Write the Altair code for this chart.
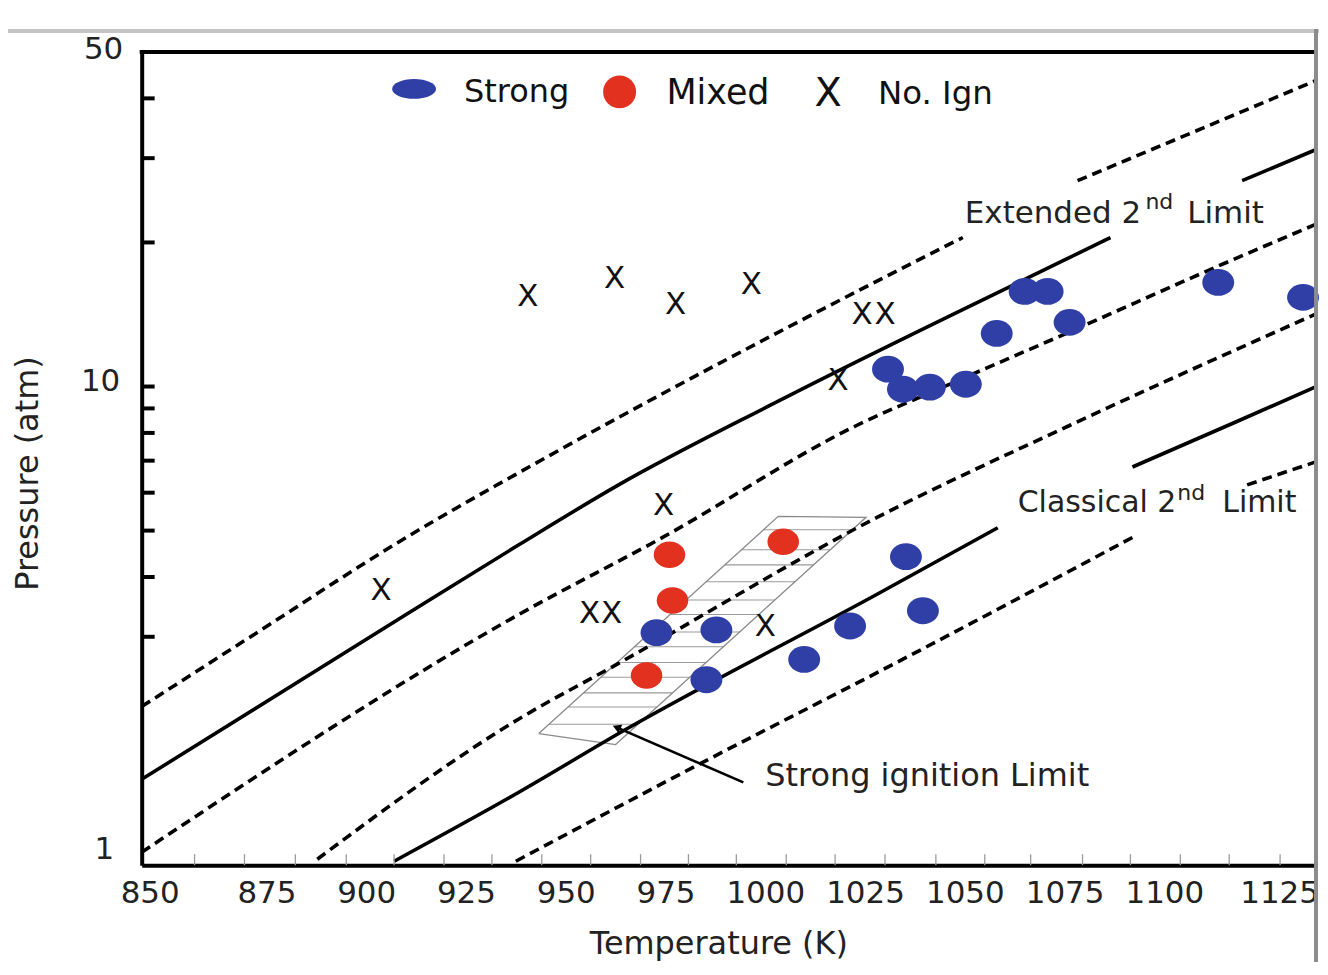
import altair as alt
import pandas as pd
import numpy as np

W, H = 1176, 815
X_DOMAIN = [843, 1137]
Y_DOMAIN = [1, 50]
FONT = "DejaVu Sans"
BLUE = "#2f3fa6"
RED = "#e2321f"

# ---- boundary curves (Temperature K, Pressure atm), segments split where labels interrupt ----
a1_T = [843, 870, 908.25, 945, 1002.5, 1037, 1048.75]
a1_P = [2.145, 2.99, 4.78, 7.16, 12.98, 18.27, 20.48]
a2_T = [1077.5, 1137]
a2_P = [26.92, 43.5]

b1_T = [843, 908.25, 937.5, 962.5, 1002.5, 1074, 1085.75]
b1_P = [1.511, 3.30, 4.67, 6.23, 9.32, 18.34, 20.48]
b2_T = [1118.75, 1137]
b2_P = [26.92, 31.2]

c_T = [843, 937.5, 973.75, 1022.25, 1043.75, 1073, 1116, 1137]
c_P = [1.064, 3.34, 4.85, 8.30, 9.97, 12.73, 18.34, 21.79]

d_T = [887, 937.5, 962.5, 1027.5, 1075.75, 1137]
d_P = [1.029, 2.02, 2.64, 5.34, 8.31, 14.15]

e1_T = [906.25, 937.5, 964.25, 1027.5, 1057.5]
e1_P = [1.019, 1.42, 1.92, 3.69, 5.07]
e2_T = [1091.25, 1117, 1137]
e2_P = [6.79, 8.42, 9.97]

f1_T = [936.75, 985, 1027.5, 1092.5]
f1_P = [1.019, 1.663, 2.53, 4.90]
f2_T = [1120, 1137]
f2_P = [6.23, 6.95]

# ---- experiments ----
strong_T = [972, 987, 984.5, 1009, 1020.5, 1034.5, 1038.75, 1030, 1033.75, 1040.5,
            1049.5, 1057.25, 1064.25, 1070, 1075.5, 1112.75, 1134]
strong_P = [3.06, 3.10, 2.44, 2.69, 3.16, 4.41, 3.40, 10.87, 9.87, 9.97,
            10.11, 12.91, 15.80, 15.80, 13.62, 16.50, 15.36]

mixed_T = [975.25, 1003.75, 976, 969.5]
mixed_P = [4.45, 4.74, 3.57, 2.49]

noign_T = [903, 939.75, 961.5, 976.75, 995.75, 1023.5, 1029.25, 1017.5, 973.75, 955.25, 960.75, 999.25]
noign_P = [3.73, 15.36, 16.74, 14.77, 16.26, 14.08, 14.08, 10.26, 5.63, 3.34, 3.34, 3.15]

# ---- strong-ignition limit band (parallelogram corners, hatch levels) ----
band_T = [942.5, 1002.5, 1024.5, 961.75, 942.5]
band_P = [1.883, 5.355, 5.33, 1.786, 1.883]
hatch_P = [5.02, 4.56, 4.24, 3.91, 3.58, 3.34, 3.07, 2.86, 2.65, 2.47, 2.29, 2.14, 1.97]

arrow_T = [993.75, 962]
arrow_P = [1.489, 1.94]

x_ticks = [850, 875, 900, 925, 950, 975, 1000, 1025, 1050, 1075, 1100, 1125]
x_minor = [856.25, 868.75, 881.5, 894.25, 906.25, 918.75, 930.75, 943.25, 955.5, 968, 980,
           992, 1004.5, 1016.75, 1029.25, 1042, 1054.25, 1065.75, 1078.75, 1090.75,
           1103.25, 1115.5, 1128.25]
y_ticks = [1, 10, 50]
y_minor = [3, 4, 5, 6, 7, 8, 9, 10, 20, 30, 40]

# ---------------- build tables ----------------
segs = [("a1", "dash", a1_T, a1_P), ("a2", "dash", a2_T, a2_P),
        ("b1", "solid", b1_T, b1_P), ("b2", "solid", b2_T, b2_P),
        ("c", "dash", c_T, c_P), ("d", "dash", d_T, d_P),
        ("e1", "solid", e1_T, e1_P), ("e2", "solid", e2_T, e2_P),
        ("f1", "dash", f1_T, f1_P), ("f2", "dash", f2_T, f2_P)]
rows = []
for name, style, Ts, Ps in segs:
    for i, (t, p) in enumerate(zip(Ts, Ps)):
        rows.append({"seg": name, "style": style, "T": t, "P": p, "i": i})
lines_df = pd.DataFrame(rows)

strong_df = pd.DataFrame({"T": strong_T, "P": strong_P})
mixed_df = pd.DataFrame({"T": mixed_T, "P": mixed_P})
noign_df = pd.DataFrame({"T": noign_T, "P": noign_P, "txt": ["X"] * len(noign_T)})
band_df = pd.DataFrame({"T": band_T, "P": band_P, "i": range(len(band_T))})

# hatch segments between the left edge (BL->TL) and right edge (BR->TR), in log-pressure space
lg = np.log10
hrows = []
for k, p in enumerate(hatch_P):
    tl = np.interp(lg(p), [lg(band_P[0]), lg(band_P[1])], [band_T[0], band_T[1]])
    tr = np.interp(lg(p), [lg(band_P[3]), lg(band_P[2])], [band_T[3], band_T[2]])
    hrows.append({"T": tl, "T2": tr, "P": p})
hatch_df = pd.DataFrame(hrows)

arrow_df = pd.DataFrame({"T": arrow_T, "P": arrow_P, "i": [0, 1]})
tip_df = pd.DataFrame({"T": [arrow_T[1]], "P": [arrow_P[1]]})
xminor_df = pd.DataFrame({"T": x_minor})
yminor_df = pd.DataFrame({"P": y_minor})
one = pd.DataFrame({"a": [0]})

xs = alt.Scale(domain=X_DOMAIN, nice=False, zero=False)
ys = alt.Scale(type="log", domain=Y_DOMAIN, nice=False)

x_axis = alt.Axis(values=x_ticks, format="d", title="Temperature (K)", ticks=False,
                  labelFontSize=31, labelFont=FONT, labelColor="#222", labelPadding=13,
                  labelOffset={"condition": [{"test": "datum.value == 850", "value": -20},
                                             {"test": "datum.value == 1125", "value": 12}],
                               "value": -3},
                  titleFontSize=32, titleFont=FONT, titleFontWeight="normal", titleColor="#222",
                  titleX=578, titleY=89, titleBaseline="alphabetic", titleAlign="center",
                  domainColor="black", domainWidth=4, grid=False, labelOverlap=False)
y_axis = alt.Axis(values=y_ticks, format="d", title="Pressure (atm)", ticks=False,
                  labelFontSize=31, labelFont=FONT, labelColor="#222",
                  labelPadding={"condition": [{"test": "datum.value == 1", "value": 28},
                                              {"test": "datum.value == 10", "value": 22}],
                                "value": 19},
                  labelBaseline="middle",
                  labelOffset={"condition": [{"test": "datum.value == 1", "value": -16},
                                             {"test": "datum.value == 10", "value": -5}],
                               "value": -2},
                  titleFontSize=32, titleFont=FONT, titleFontWeight="normal", titleColor="#222",
                  titleX=-114, titleY=422, titleBaseline="middle", titleAlign="center",
                  titleAngle=270,
                  domainColor="black", domainWidth=4, grid=False, labelOverlap=False)


def X(field="T"):
    return alt.X(f"{field}:Q", scale=xs, axis=x_axis)


def Y(field="P"):
    return alt.Y(f"{field}:Q", scale=ys, axis=y_axis)


ellipse = "M-1,0A1,0.84 0 1,0 1,0A1,0.84 0 1,0 -1,0Z"
legend_ellipse = "M-1,0A1,0.45 0 1,0 1,0A1,0.45 0 1,0 -1,0Z"

layers = []

# hatched band
layers.append(alt.Chart(hatch_df).mark_rule(color="#9a9a9a", strokeWidth=1.1).encode(
    x=X(), x2="T2:Q", y=Y()))
layers.append(alt.Chart(band_df).mark_line(color="#8a8a8a", strokeWidth=1.3).encode(
    x=X(), y=Y(), order="i:Q"))

# boundary curves
layers.append(alt.Chart(lines_df).transform_filter("datum.style == 'dash'").mark_line(
    color="black", strokeWidth=3.6, strokeDash=[10, 6], interpolate="monotone").encode(
    x=X(), y=Y(), detail="seg:N", order="i:Q"))
layers.append(alt.Chart(lines_df).transform_filter("datum.style == 'solid'").mark_line(
    color="black", strokeWidth=3.6, interpolate="monotone").encode(
    x=X(), y=Y(), detail="seg:N", order="i:Q"))

# arrow
layers.append(alt.Chart(arrow_df).mark_line(color="black", strokeWidth=2.6).encode(
    x=X(), y=Y(), order="i:Q"))
layers.append(alt.Chart(tip_df).mark_point(shape="triangle-up", angle=293, size=90, filled=True,
                                           color="black", opacity=1).encode(x=X(), y=Y()))

# experiment markers
layers.append(alt.Chart(strong_df).mark_point(shape=ellipse, size=1024, filled=True, color=BLUE,
                                              opacity=1).encode(x=X(), y=Y()))
layers.append(alt.Chart(mixed_df).mark_point(shape=ellipse, size=1000, filled=True, color=RED,
                                             opacity=1).encode(x=X(), y=Y()))
layers.append(alt.Chart(noign_df).mark_text(font=FONT, fontSize=31, color="#111", align="center",
                                            baseline="middle").encode(x=X(), y=Y(), text="txt:N"))

# inward axis ticks
layers.append(alt.Chart(yminor_df).mark_rule(color="black", strokeWidth=4).encode(
    y=Y(), x=alt.value(0), x2=alt.value(13)))
layers.append(alt.Chart(xminor_df).mark_rule(color="#9a9a9a", strokeWidth=1.3).encode(
    x=X(), y=alt.value(H), y2=alt.value(H - 11)))

# top frame of plot
layers.append(alt.Chart(one).mark_rule(color="black", strokeWidth=4).encode(
    x=alt.value(-2), x2=alt.value(W), y=alt.value(0)))


# annotations (anchored in data space)
def ann(T, P, text, size, dx=0, dy=0):
    df = pd.DataFrame({"T": [T], "P": [P], "t": [text]})
    return alt.Chart(df).mark_text(font=FONT, fontSize=size, color="#222", align="left",
                                   baseline="alphabetic", dx=dx, dy=dy).encode(
        x=X(), y=Y(), text="t:N")


layers.append(ann(1049.25, 22.0, "Extended 2", 31))
layers.append(ann(1049.25, 22.0, "nd", 22, dx=181, dy=-14))
layers.append(ann(1049.25, 22.0, "Limit", 31, dx=223))
layers.append(ann(1062.5, 5.47, "Classical 2", 30))
layers.append(ann(1062.5, 5.47, "nd", 22, dx=160, dy=-12))
layers.append(ann(1062.5, 5.47, "Limit", 30, dx=205))
layers.append(ann(999.25, 1.461, "Strong ignition Limit", 32))

# legend
layers.append(alt.Chart(one).mark_point(shape=legend_ellipse, size=1936, filled=True, color=BLUE,
                                        opacity=1).encode(x=alt.value(273), y=alt.value(37)))
layers.append(alt.Chart(one).mark_point(shape="circle", size=1089, filled=True, color=RED,
                                        opacity=1).encode(x=alt.value(479), y=alt.value(40)))
for xpos, ypos, txt, size in [(323, 40, "Strong", 32), (526, 41, "Mixed", 35),
                              (688, 42, "X", 40), (738, 42, "No. Ign", 32.5)]:
    layers.append(alt.Chart(one).mark_text(font=FONT, fontSize=size, color="#111",
                                           align="center" if txt == "X" else "left",
                                           baseline="middle").encode(
        x=alt.value(xpos), y=alt.value(ypos), text=alt.value(txt)))

# outer picture frame (grey borders of the original figure)
layers.append(alt.Chart(one).mark_rule(color="#c4c4c4", strokeWidth=4).encode(
    x=alt.value(-134), x2=alt.value(1180), y=alt.value(-21)))
layers.append(alt.Chart(one).mark_rule(color="#8c8c8c", strokeWidth=4).encode(
    x=alt.value(1177), y=alt.value(-23), y2=alt.value(920)))

chart = alt.layer(*layers).properties(
    width=W, height=H,
    padding={"left": 134, "top": 43, "right": 5, "bottom": 96},
    autosize=alt.AutoSizeParams(type="none"),
    background="white",
).configure_view(stroke=None)

chart.save("out.html", embed_options={"renderer": "svg", "actions": False})
